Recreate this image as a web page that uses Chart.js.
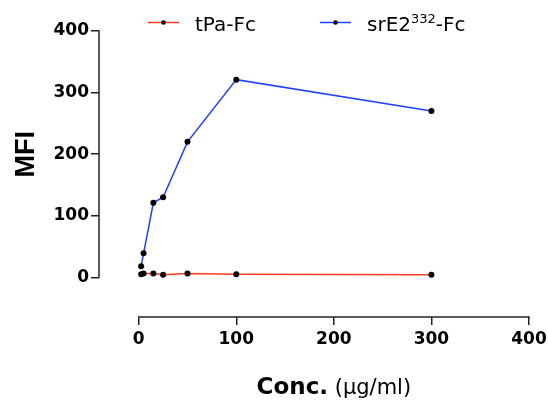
<!DOCTYPE html>
<html><head><meta charset="utf-8">
<script src="https://cdn.jsdelivr.net/npm/chart.js@4"></script>
<style>html,body{margin:0;padding:0;background:#fff;}canvas{display:block;}</style>
</head><body>
<canvas id="c" width="548" height="402"></canvas>
<script>
// ---- data ----
const conc = [2.5, 5, 15, 25, 50, 100, 300];
const tpaFc = [5, 6, 6, 4, 6, 5, 4];
const srE2Fc = [18, 39, 121, 130, 220, 321, 270];
const xTicks = [0, 100, 200, 300, 400];
const yTicks = [0, 100, 200, 300, 400];
const seriesNames = ['tPa-Fc', 'srE2^332-Fc'];
const xTitleBold = 'Conc.';
const xTitleNormal = ' (μg/ml)';
const yTitle = 'MFI';

const RED = '#ff3b1f';
const BLUE = '#1f40ff';
const AXIS = '#222222';
const TICK_FONT = {family: 'DejaVu Sans', size: 17, weight: 'bold'};

function pts(xs, ys) { return xs.map((x, i) => ({x: x, y: ys[i]})); }

const decor = {
  id: 'decor',
  beforeDatasetsDraw(chart) {
    const ctx = chart.ctx, xs = chart.scales.x, ys = chart.scales.y, ca = chart.chartArea;
    ctx.save();
    ctx.strokeStyle = AXIS; ctx.lineWidth = 1.5; ctx.lineCap = 'butt';
    ctx.beginPath();
    ctx.moveTo(ca.left, ys.getPixelForValue(yTicks[0]) + 0.75);
    ctx.lineTo(ca.left, ys.getPixelForValue(yTicks[yTicks.length - 1]) - 0.75);
    ctx.stroke();
    ctx.beginPath();
    ctx.moveTo(xs.getPixelForValue(xTicks[0]) - 0.75, ca.bottom);
    ctx.lineTo(xs.getPixelForValue(xTicks[xTicks.length - 1]) + 0.75, ca.bottom);
    ctx.stroke();
    ctx.restore();
  },
  afterDraw(chart) {
    const ctx = chart.ctx, xs = chart.scales.x, ys = chart.scales.y;
    ctx.save();
    ctx.fillStyle = '#000';
    const fb = 'bold 23px "DejaVu Sans"', fn = '21px "DejaVu Sans"';
    ctx.font = fb; const wb = ctx.measureText(xTitleBold).width;
    ctx.font = fn; const wn = ctx.measureText(xTitleNormal).width;
    const cx = (xs.getPixelForValue(xTicks[0]) + xs.getPixelForValue(xTicks[xTicks.length - 1])) / 2;
    let x0 = cx - (wb + wn) / 2;
    ctx.textBaseline = 'alphabetic'; ctx.textAlign = 'left';
    ctx.font = fb; ctx.fillText(xTitleBold, x0, 394);
    ctx.font = fn; ctx.fillText(xTitleNormal, x0 + wb, 394);
    const cy = (ys.getPixelForValue(yTicks[0]) + ys.getPixelForValue(yTicks[yTicks.length - 1])) / 2;
    ctx.translate(33.5, cy);
    ctx.rotate(-Math.PI / 2);
    ctx.font = 'bold 27px "Liberation Sans"';
    ctx.textAlign = 'center';
    ctx.fillText(yTitle, 0, 0);
    ctx.restore();

    // legend
    ctx.save();
    const items = [
      {x: 148, color: chart.data.datasets[0].borderColor, name: seriesNames[0]},
      {x: 320, color: chart.data.datasets[1].borderColor, name: seriesNames[1]}
    ];
    const ly = 22.5;
    items.forEach(it => {
      ctx.strokeStyle = it.color; ctx.lineWidth = 1.5;
      ctx.beginPath(); ctx.moveTo(it.x, ly); ctx.lineTo(it.x + 31, ly); ctx.stroke();
      ctx.fillStyle = '#000';
      ctx.beginPath(); ctx.arc(it.x + 15.5, ly, 2.3, 0, Math.PI * 2); ctx.fill();
      let tx = it.x + 47;
      const base = 30.5;
      ctx.textAlign = 'left'; ctx.textBaseline = 'alphabetic';
      const m = it.name.match(/^([^\^]*)\^(\d+)(.*)$/);
      const fontN = '20px "DejaVu Sans"', fontS = '13px "DejaVu Sans"';
      if (m) {
        ctx.font = fontN; ctx.fillText(m[1], tx, base); tx += ctx.measureText(m[1]).width;
        ctx.font = fontS; ctx.fillText(m[2], tx, base - 8); tx += ctx.measureText(m[2]).width;
        ctx.font = fontN; ctx.fillText(m[3], tx, base);
      } else {
        ctx.font = fontN; ctx.fillText(it.name, tx, base);
      }
    });
    ctx.restore();
  }
};

new Chart(document.getElementById('c'), {
  type: 'line',
  data: {
    datasets: [
      {label: seriesNames[0], data: pts(conc, tpaFc), borderColor: RED, borderWidth: 1.5,
       pointRadius: 3, pointBackgroundColor: '#000', pointBorderColor: '#000', pointBorderWidth: 0, fill: false, tension: 0},
      {label: seriesNames[1], data: pts(conc, srE2Fc), borderColor: BLUE, borderWidth: 1.5,
       pointRadius: 3, pointBackgroundColor: '#000', pointBorderColor: '#000', pointBorderWidth: 0, fill: false, tension: 0}
    ]
  },
  options: {
    responsive: false,
    animation: false,
    devicePixelRatio: 1,
    layout: {padding: {top: 31, right: 19, left: 0, bottom: 0}},
    plugins: {legend: {display: false}, tooltip: {enabled: false}},
    scales: {
      x: {
        type: 'linear', min: -40.7, max: 400,
        afterFit: s => { s.height = 85; s.paddingLeft = 0; s.paddingRight = 0; },
        afterBuildTicks: s => { s.ticks = xTicks.map(v => ({value: v})); },
        border: {display: false},
        grid: {drawOnChartArea: false, drawTicks: true, tickLength: 8, color: AXIS, lineWidth: 1.5},
        ticks: {color: '#000', font: TICK_FONT, padding: 4, maxRotation: 0, autoSkip: false}
      },
      y: {
        type: 'linear', min: -64.5, max: 400,
        afterFit: s => { s.width = 99; s.paddingTop = 0; s.paddingBottom = 0; },
        afterBuildTicks: s => { s.ticks = yTicks.map(v => ({value: v})); },
        border: {display: false},
        grid: {drawOnChartArea: false, drawTicks: true, tickLength: 8, color: AXIS, lineWidth: 1.5},
        ticks: {color: '#000', font: TICK_FONT, padding: 2, autoSkip: false}
      }
    }
  },
  plugins: [decor]
});
</script>
</body></html>
